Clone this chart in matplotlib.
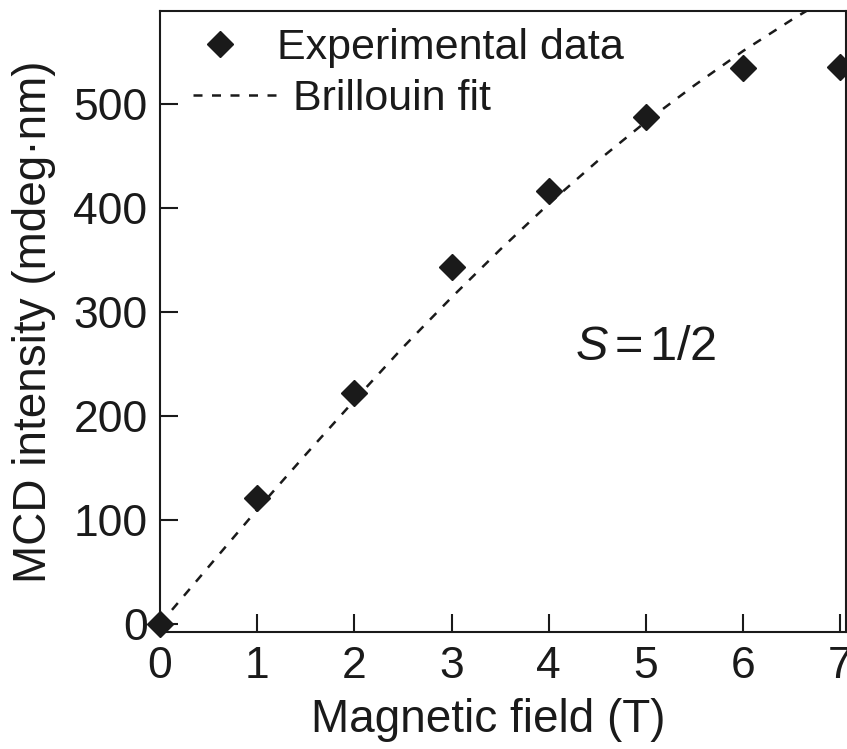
import matplotlib
matplotlib.use("Agg")
import matplotlib.pyplot as plt

plt.rcParams['font.family'] = ['Liberation Sans', 'DejaVu Sans']
plt.rcParams['mathtext.fontset'] = 'custom'
plt.rcParams['mathtext.rm'] = 'Liberation Sans'
plt.rcParams['mathtext.it'] = 'Liberation Sans:italic'

# experimental points
field = [0, 1, 2, 3, 4, 5, 6, 7]
mcd = [0, 121, 222, 343, 416, 487, 535, 536]

# Brillouin fit curve
fit_field = [0, 0.5, 1, 1.5, 2, 2.5, 3, 3.5, 4, 4.5, 5, 5.5, 6, 6.5, 7]
fit_mcd = [0, 55, 110, 163, 215, 266, 314, 360, 404, 445, 483, 518, 551, 581, 609]

xticks = [0, 1, 2, 3, 4, 5, 6, 7]
yticks = [0, 100, 200, 300, 400, 500]

ink = '#1a1a1a'

W, H = 847, 749
fig = plt.figure(figsize=(W / 100, H / 100), dpi=100)
ax = fig.add_axes([160 / W, 1 - 632 / H, (846 - 160) / W, (632 - 11) / H])

ax.plot(fit_field, fit_mcd, color=ink, lw=1.8, linestyle=(0, (3.6, 3.8)), zorder=2)
ax.plot(field, mcd, linestyle='none', marker='D', ms=13, color=ink,
        clip_on=False, zorder=3)

ax.set_xlim(0, 7.058)
ax.set_ylim(-7.7, 589.4)
ax.set_xticks(xticks)
ax.set_yticks(yticks)

for side in ['left', 'bottom', 'top', 'right']:
    ax.spines[side].set_linewidth(1.5)
    ax.spines[side].set_color(ink)

ax.tick_params(direction='in', length=13, width=1.5, labelsize=32,
               colors=ink, top=False, right=False)
ax.tick_params(axis='y', pad=9)
ax.tick_params(axis='x', pad=10)

ax.set_xlabel('Magnetic field (T)', fontsize=33, color=ink)
ax.xaxis.set_label_coords(0.479, -0.106)
ax.set_ylabel('MCD intensity (mdeg\u00b7nm)', fontsize=33, color=ink)
ax.yaxis.set_label_coords(-0.152, 0.5)

# hand-placed legend
ax.plot([0.0875], [0.947], marker='D', ms=13, color=ink, transform=ax.transAxes,
        clip_on=False)
ax.plot([0.048, 0.178], [0.865, 0.865], color=ink, lw=1.8,
        linestyle=(0, (3.6, 3.8)), transform=ax.transAxes)
ax.text(0.171, 0.923, 'Experimental data', fontsize=31, color=ink,
        transform=ax.transAxes, va='baseline')
ax.text(0.194, 0.8406, 'Brillouin fit', fontsize=31, color=ink,
        transform=ax.transAxes, va='baseline')

ax.text(0.605, 0.438, r'$S\,$=$\,$1/2', fontsize=35, color=ink,
        transform=ax.transAxes, va='baseline')

fig.savefig('out.png', dpi=100)
